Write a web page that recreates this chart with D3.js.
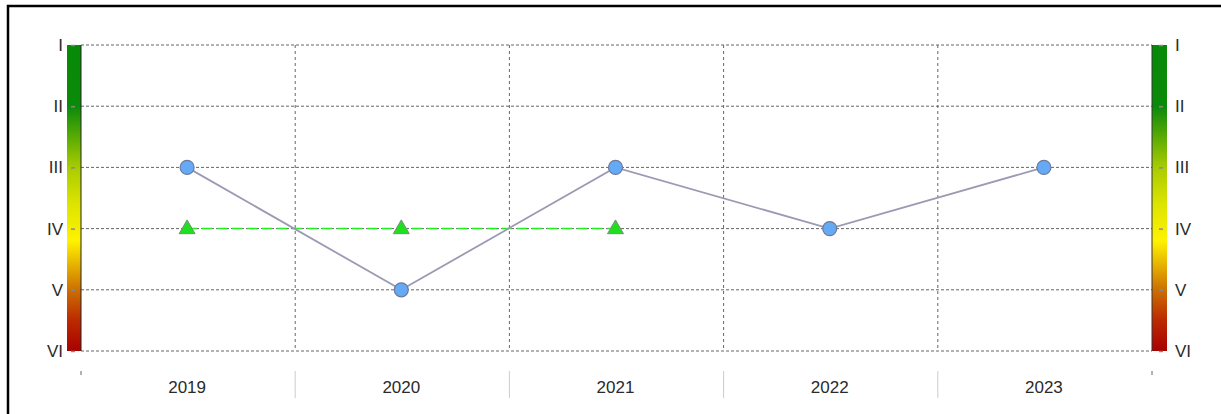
<!DOCTYPE html>
<html>
<head>
<meta charset="utf-8">
<script src="https://cdn.jsdelivr.net/npm/d3@7"></script>
<style>
  html, body { margin: 0; padding: 0; background: #fff; }
  svg { display: block; }
  text { font-family: "Liberation Sans", Arial, sans-serif; }
</style>
</head>
<body>
<svg id="chart" width="1221" height="414"></svg>
<script>
const years = ["2019", "2020", "2021", "2022", "2023"];
const classLabels = ["I", "II", "III", "IV", "V", "VI"];
const seriesA = [3, 5, 3, 4, 3];      // circles (class index 1..6)
const seriesB = [4, 4, 4];            // triangles, 2019-2021

const svg = d3.select("#chart");
const W = 1221, H = 414;
const pLeft = 81, pRight = 1152, pTop = 45, pBottom = 351;

// outer frame
svg.append("rect").attr("x", 8).attr("y", 6).attr("width", W + 10).attr("height", H + 10)
  .attr("fill", "#fff").attr("stroke", "#000").attr("stroke-width", 2.5);

const x = d3.scaleBand().domain(years).range([pLeft, pRight]).padding(0);
const y = d3.scaleLinear().domain([1, 6]).range([pTop, pBottom]);

// gradient for color bars
const defs = svg.append("defs");
const grad = defs.append("linearGradient").attr("id", "cls").attr("x1", 0).attr("y1", 0).attr("x2", 0).attr("y2", 1);
[[0, "#078a07"], [0.2, "#0a8a0a"], [0.4, "#a8cc00"], [0.52, "#dde400"], [0.64, "#fff200"], [0.8, "#cc7000"], [0.9, "#bb2a00"], [1, "#aa0000"]]
  .forEach(([o, c]) => grad.append("stop").attr("offset", o).attr("stop-color", c));

// color bars
svg.append("rect").attr("x", 67).attr("y", pTop).attr("width", pLeft - 67).attr("height", pBottom - pTop).attr("fill", "url(#cls)");
svg.append("rect").attr("x", pRight).attr("y", pTop).attr("width", 15).attr("height", pBottom - pTop).attr("fill", "url(#cls)");

const g = svg.append("g");

// horizontal grid
g.selectAll("line.hg").data(d3.range(1, 7)).join("line")
  .attr("x1", pLeft).attr("x2", pRight)
  .attr("y1", d => y(d)).attr("y2", d => y(d))
  .attr("stroke", "#666").attr("stroke-width", 1).attr("stroke-dasharray", "3,2");

// vertical grid at band edges
const edges = years.slice(1).map(d => x(d));
g.selectAll("line.vg").data(edges).join("line")
  .attr("x1", d => d).attr("x2", d => d)
  .attr("y1", pTop).attr("y2", pBottom)
  .attr("stroke", "#666").attr("stroke-width", 1).attr("stroke-dasharray", "3,3");

// plot side borders
g.append("line").attr("x1", pLeft).attr("x2", pLeft).attr("y1", pTop).attr("y2", pBottom).attr("stroke", "#222").attr("stroke-width", 1);
g.append("line").attr("x1", pRight).attr("x2", pRight).attr("y1", pTop).attr("y2", pBottom).attr("stroke", "#333").attr("stroke-width", 1);

// y axes labels (left and right)
const yTickVals = d3.range(1, 7);
const axL = d3.axisLeft(y).tickValues(yTickVals).tickFormat(d => classLabels[d - 1]).tickSize(4).tickPadding(10);
const gl = svg.append("g").attr("transform", `translate(${75},0)`).call(axL);
gl.select(".domain").remove();
gl.selectAll(".tick line").attr("stroke", "#888").attr("stroke-width", 1.5);
gl.selectAll(".tick text").attr("font-size", 17).attr("fill", "#2a2a2a").attr("dx", 2);

const axR = d3.axisRight(y).tickValues(yTickVals).tickFormat(d => classLabels[d - 1]).tickSize(4).tickPadding(12);
const gr = svg.append("g").attr("transform", `translate(${1159},0)`).call(axR);
gr.select(".domain").remove();
gr.selectAll(".tick line").attr("stroke", "#888").attr("stroke-width", 1.5);
gr.selectAll(".tick text").attr("font-size", 17).attr("fill", "#2a2a2a");

// x axis: boundary ticks and labels
const allEdges = [pLeft].concat(edges).concat([pRight]);
svg.selectAll("line.xt").data(allEdges).join("line")
  .attr("x1", d => d).attr("x2", d => d)
  .attr("y1", 371).attr("y2", (d, i) => (i === 0 || i === allEdges.length - 1) ? 375 : 398)
  .attr("stroke", (d, i) => (i === 0 || i === allEdges.length - 1) ? "#666" : "#ccc").attr("stroke-width", 1);
svg.selectAll("text.xl").data(years).join("text")
  .attr("x", d => x(d) + x.bandwidth() / 2 - 1).attr("y", 392.5)
  .attr("text-anchor", "middle").attr("font-size", 17).attr("fill", "#2a2a2a").text(d => d);

const cx = d => x(d) + x.bandwidth() / 2 - 1;

// series B dashed line
const ptsB = seriesB.map((v, i) => [cx(years[i]), y(v)]);
svg.append("path").attr("d", d3.line()(ptsB)).attr("fill", "none")
  .attr("stroke", "#22ee22").attr("stroke-width", 1.5).attr("stroke-dasharray", "10,5");

// series A line
const ptsA = seriesA.map((v, i) => [cx(years[i]), y(v)]);
svg.append("path").attr("d", d3.line()(ptsA)).attr("fill", "none")
  .attr("stroke", "#9a9ab4").attr("stroke-width", 1.8);

// triangles
const tri = d3.symbol().type(d3.symbolTriangle).size(110);
svg.selectAll("path.tri").data(ptsB).join("path")
  .attr("d", tri).attr("transform", d => `translate(${d[0]},${d[1] + 0.5})`)
  .attr("fill", "#1ee01e").attr("stroke", "#7a8a7a").attr("stroke-width", 1);

// circles
svg.selectAll("circle.pt").data(ptsA).join("circle")
  .attr("cx", d => d[0]).attr("cy", d => d[1]).attr("r", 7)
  .attr("fill", "#66aaf5").attr("stroke", "#6b7a99").attr("stroke-width", 1.2);
</script>
</body>
</html>
